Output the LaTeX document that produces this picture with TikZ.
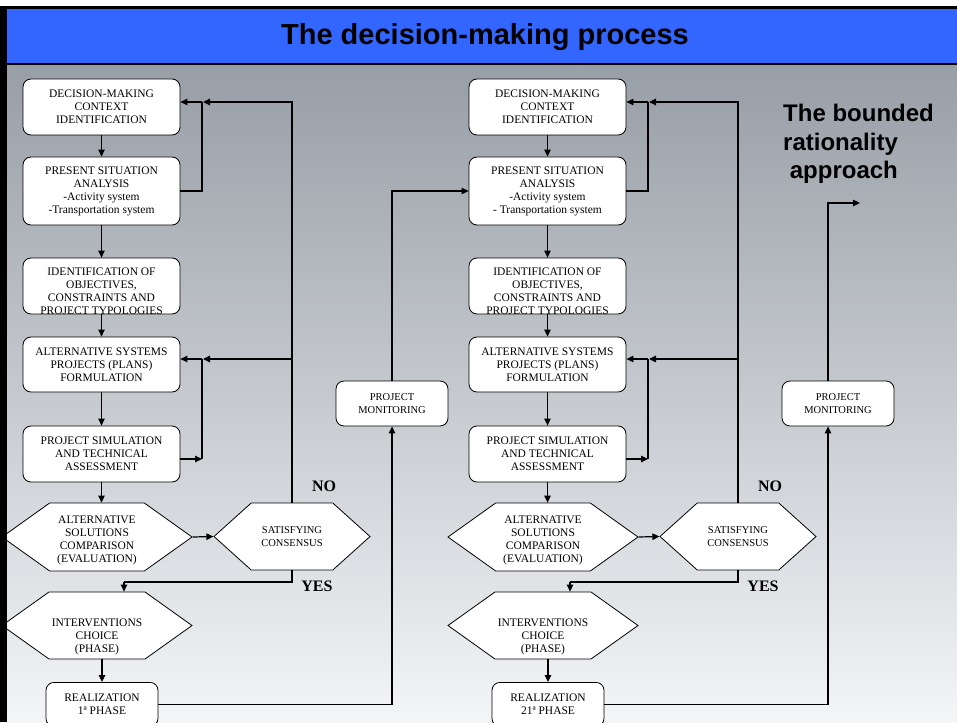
\documentclass[tikz,border=0pt]{standalone}
\usepackage{fontspec}
\setmainfont{Liberation Serif}
\newfontfamily\headfont{Liberation Sans}
\usetikzlibrary{arrows.meta, positioning, shapes.symbols, calc}

\definecolor{titleblue}{HTML}{3366FF}
\definecolor{bgtop}{RGB}{152,158,166}
\definecolor{bgmid}{RGB}{206,210,215}
\definecolor{bgbot}{RGB}{243,245,247}

\tikzset{
  box/.style={draw, line width=0.8pt, fill=white, rounded corners=8pt, minimum width=157pt, minimum height=56pt, inner sep=0pt, align=center, font=\fontsize{11.5}{13}\selectfont},
  boxtext/.style={inner sep=0pt, align=center, font=\fontsize{11.5}{13}\selectfont},
  hexa/.style={draw, line width=0.8pt, fill=white, shape=signal, signal to=east and west, signal pointer angle=71, minimum width=190pt, minimum height=68pt, inner sep=0pt, align=center, font=\fontsize{11.5}{13}\selectfont},
  mon/.style={box, minimum width=112pt, minimum height=45pt, font=\fontsize{10.5}{13}\selectfont},
  link/.style={line width=1.2pt, -{Triangle[length=7pt,width=6.5pt]}},
  wire/.style={line width=1.2pt},
  verdict/.style={inner sep=0pt, font=\bfseries\fontsize{16}{16}\selectfont}
}

\begin{document}
\begin{tikzpicture}[x=1pt, y=-1pt]
  % frame and background
  \useasboundingbox (0,0) rectangle (957,722);
  \clip (0,0) rectangle (957,722);
  \shade[top color=bgtop, middle color=bgmid, bottom color=bgbot] (0,64) rectangle (957,722);
  \fill[titleblue] (0,9) rectangle (957,64);
  \fill[black] (0,6) rectangle (957,9);
  \draw[line width=1.5pt] (0,64) -- (957,64);
  \node[font=\headfont\bfseries\fontsize{29}{29}\selectfont] (title) at (485,37) {The decision-making process};

  % the two process columns
  \foreach \col/\dx/\trsp/\nth in {a/0/{-Transportation system}/1, b/446/{- Transportation system}/21} {
    \begin{scope}[xshift=\dx pt]
      \node[box] (\col-b1) at (101.5,107) {DECISION-MAKING\\CONTEXT\\IDENTIFICATION};
      \node[box, minimum height=68pt] (\col-b2) at (101.5,191) {PRESENT SITUATION\\ANALYSIS\\-Activity system\\\trsp};
      \node[box] (\col-b3) at (101.5,286) {};
      \node[boxtext] (\col-t3) at ([yshift=-5.5pt]\col-b3.center) {IDENTIFICATION OF\\OBJECTIVES,\\CONSTRAINTS AND\\PROJECT TYPOLOGIES};
      \node[box, minimum height=55pt] (\col-b4) at (101.5,364.5) {ALTERNATIVE SYSTEMS\\PROJECTS (PLANS)\\FORMULATION};
      \node[box] (\col-b5) at (101.5,454) {PROJECT SIMULATION\\AND TECHNICAL\\ASSESSMENT};
      \node[hexa] (\col-h1) at (97,537) {};
      \node[boxtext] (\col-t1) at ([yshift=-3pt]\col-h1.center) {ALTERNATIVE\\SOLUTIONS\\COMPARISON\\(EVALUATION)};
      \node[hexa, signal pointer angle=84, minimum width=156pt, minimum height=67pt, font=\fontsize{10.5}{13}\selectfont] (\col-c1) at (292,536.5) {SATISFYING\\CONSENSUS};
      \node[hexa, minimum height=67pt] (\col-h2) at (97,625.5) {};
      \node[boxtext] (\col-t2) at ([yshift=-11pt]\col-h2.center) {INTERVENTIONS\\CHOICE\\(PHASE)};
      \node[box, minimum width=112pt, minimum height=44pt, anchor=north] (\col-r1) at (102,682) {REALIZATION\\{\nth}ª PHASE};
      \node[verdict] (\col-no) at (324,486) {NO};
      \node[verdict] (\col-yes) at (317,586) {YES};

      \coordinate (\col-j1) at (202,102);
      \coordinate (\col-j2) at (202,359);
      \coordinate (\col-j3) at (202,459);
      \coordinate (\col-k1) at (124,582);

      \draw[link] (\col-b1.south) -- (\col-b2.north);
      \draw[link] (\col-b2.south) -- (\col-b3.north);
      \draw[link] (\col-b3.south) -- (\col-b4.north);
      \draw[link] (\col-b4.south) -- (\col-b5.north);
      \draw[link] (\col-b5.south) -- (\col-b5.south |- \col-h1.north);
      \draw[wire] (\col-b2.east) -| (\col-j1);
      \draw[link] (\col-j1) -- (\col-b1.east |- \col-j1);
      \draw[link] (\col-c1.north) |- ([xshift=1pt]\col-j1);
      \draw[link] (\col-c1.north |- \col-j2) -- ([xshift=1pt]\col-j2);
      \draw[link] (\col-b5.east |- \col-j3) -- (\col-j3);
      \draw[wire] (\col-j3) -- (\col-j2);
      \draw[link] (\col-j2) -- (\col-b4.east |- \col-j2);
      \draw[link] (\col-h1.east) -- (\col-c1.west);
      \draw[wire] (\col-c1.south) |- (\col-k1);
      \draw[link] (\col-k1) -- (\col-k1 |- \col-h2.north);
      \draw[link] (\col-r1.north |- \col-h2.south) -- (\col-r1.north);
    \end{scope}
  }

  % monitoring loops
  \node[mon] (m1) at (392,403.5) {PROJECT\\MONITORING};
  \node[mon] (m2) at (838,403.5) {PROJECT\\MONITORING};
  \coordinate (q) at (828,203);
  \coordinate (qend) at (860,203);
  \draw[link] (a-r1.east) -| (m1.south);
  \draw[link] (m1.north) |- (b-b2.west);
  \draw[link] (b-r1.east) -| (q |- m2.south);
  \draw[link] (q |- m2.north) |- (qend);

  \node[anchor=north west, align=left, inner sep=0pt, font=\headfont\bfseries\fontsize{24}{28.5}\selectfont] (approach) at (783,104) {The bounded\\rationality\\\ approach};

  \fill[black] (0,6) rectangle (7,722);
\end{tikzpicture}
\end{document}
